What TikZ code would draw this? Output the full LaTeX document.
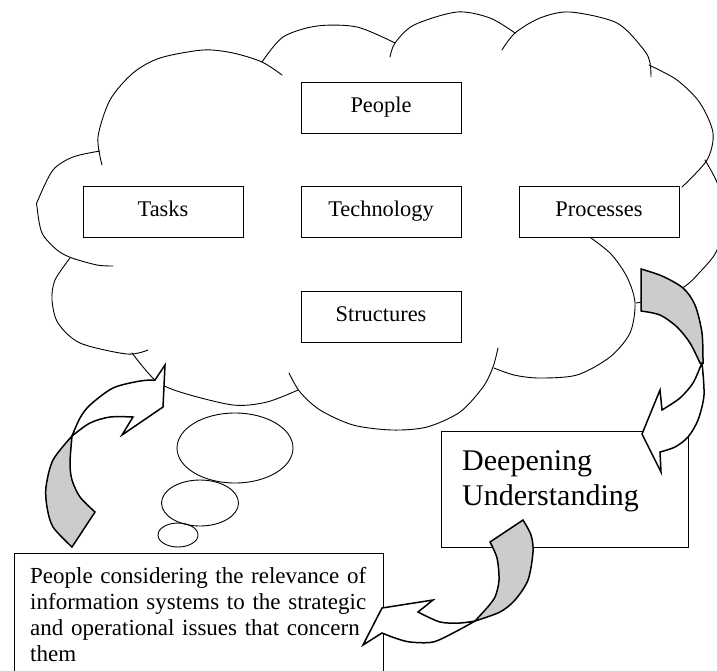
\documentclass[tikz,border=0pt]{standalone}
\usepackage{fontspec}
\setmainfont{Liberation Serif}
\usetikzlibrary{shapes.geometric}
\begin{document}
\begin{tikzpicture}[x=1pt,y=-1pt,
  cloudline/.style={line width=0.9pt, line join=round, line cap=round},
  arrowline/.style={line width=1.5pt, line join=miter},
  boxnode/.style={draw, line width=1pt, fill=white, inner sep=0pt, minimum width=160pt, minimum height=51pt, font=\fontsize{22.4}{26}\selectfont, text height=15pt, text depth=5pt},
  bubble/.style={draw, ellipse, line width=0.9pt, inner sep=0pt},
  graypart/.style={arrowline, fill=gray!40},
  whitepart/.style={arrowline, fill=white}]
\useasboundingbox (0,0) rectangle (717,670);
\clip (0,0) rectangle (717,670);
\fill[white] (0,0) rectangle (717,670);

% cloud outline
\draw[cloudline] plot[smooth] coordinates {(102,165) (98,137) (110,100) (133,73) (160,58) (203,50) (233,53) (262,62) (282,75)};
\draw[cloudline] plot[smooth] coordinates {(262,62) (283,37) (317,26) (357,27) (395,43)};
\draw[cloudline] plot[smooth] coordinates {(390,57) (395,43) (414,25) (457,12) (490,18) (515,33)};
\draw[cloudline] plot[smooth] coordinates {(502,50) (515,33) (540,18) (570,12) (617,23) (644,50) (650,63) (651,77)};
\draw[cloudline] plot[smooth] coordinates {(649,65) (677,80) (700,103) (713,133) (707,160) (682,187)};
\draw[cloudline] plot[smooth] coordinates {(705,160) (718,185) (722,215) (717,250) (700,272) (684,287) (660,298) (636,303)};
\draw[cloudline] plot[smooth] coordinates {(584,233) (610,253) (627,277) (635,303) (630,333) (610,357) (577,375) (539,378) (514,375) (494,368)};
\draw[cloudline] plot[smooth] coordinates {(289,373) (300,392) (320,410) (353,425) (392,430) (427,427) (460,412) (483,387) (493,367) (498,348)};
\draw[cloudline] plot[smooth] coordinates {(132,353) (155,380) (180,392) (233,405) (267,402) (298,390)};
\draw[cloudline] plot[smooth] coordinates {(70,258) (55,280) (52,300) (58,323) (80,343) (127,354) (148,350)};
\draw[cloudline] plot[smooth] coordinates {(100,151) (73,157) (53,170) (38,200) (37,207) (42,233) (57,250) (72,258) (97,265) (113,266)};

% thought bubbles
\node[bubble, minimum width=116pt, minimum height=70pt] (bubbleA) at (235,448) {};
\node[bubble, minimum width=77pt, minimum height=46pt] (bubbleB) at (200,503) {};
\node[bubble, minimum width=40pt, minimum height=24pt] (bubbleC) at (178,535) {};

% boxes in the cloud
\node[boxnode] (people) at (381,107.5) {People};
\node[boxnode] (tasks) at (163,211.5) {Tasks};
\node[boxnode] (tech) at (381,211.5) {Technology};
\node[boxnode] (proc) at (599,211.5) {Processes};
\node[boxnode] (struct) at (381,316.5) {Structures};

% deepening understanding
\node[draw, line width=1pt, fill=white, minimum width=247pt, minimum height=116pt, inner sep=0pt] (deepbox) at (564.5,489) {};
\node[anchor=base west, inner sep=0pt, text width=220pt, align=left, font=\fontsize{30}{35}\selectfont] (deeptext) at (462,470) {Deepening\\Understanding};

% issues box
\node[draw, line width=1pt, fill=white, minimum width=369pt, minimum height=140pt, inner sep=0pt, anchor=north west] (issuebox) at (14,553) {};
\node[anchor=base west, inner sep=0pt, text width=360pt, align=left, font=\fontsize{23}{26.3}\selectfont] (issuetext) at (30,583) {People considering the relevance of\\information systems to the strategic\\and operational issues that concern\\them};

% right curved arrow
\draw[whitepart] plot[smooth] coordinates {(702,363) (704,395) (698,420) (688,437) (675,447) (660,452)} -- (661,472) -- (642,434) -- (660,390) -- plot[smooth] coordinates {(662,410) (680,398) (693,383) (701,365)} -- cycle;
\draw[graypart] plot[smooth] coordinates {(641,269) (662,276) (683,288) (695,305) (702,333) (703,363)} -- plot[smooth] coordinates {(700,363) (690,343) (677,327) (660,315) (641,311)} -- cycle;

% left curved arrow
\draw[whitepart] plot[smooth] coordinates {(72,436) (80,418) (90,405) (113,388) (140,381) (155,380)} -- (165,365) -- (163,407) -- (122,435) -- plot[smooth] coordinates {(133,417) (110,417) (90,423) (72,436)} -- cycle;
\draw[graypart] plot[smooth] coordinates {(72,436) (53,460) (46,487) (47,507) (53,527) (72,547)} -- plot[smooth] coordinates {(95,512) (80,497) (72,480) (70,463) (72,436)} -- cycle;

% bottom curved arrow
\draw[whitepart] plot[smooth] coordinates {(475,621) (455,632) (433,642) (410,642) (395,638) (382,633)} -- (363,645) -- (382,608) -- (433,600) -- plot[smooth] coordinates {(418,612) (440,622) (460,623) (475,621)} -- cycle;
\draw[graypart] (490,542) -- plot[smooth] coordinates {(523,520) (531,535) (533,552) (528,580) (515,600) (500,612) (475,621)} -- plot[smooth] coordinates {(486,609) (495,597) (499,580) (497,558) (490,542)} -- cycle;
\end{tikzpicture}
\end{document}
